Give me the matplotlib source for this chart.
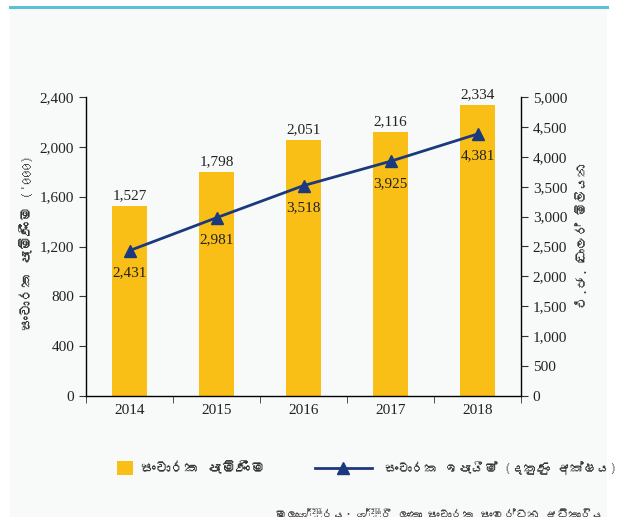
import matplotlib
matplotlib.use("Agg")
from matplotlib import pyplot as plt
from matplotlib import font_manager
from matplotlib.patches import Patch, Rectangle
from matplotlib.lines import Line2D
from matplotlib.ticker import FuncFormatter, MultipleLocator

years = ["2014", "2015", "2016", "2017", "2018"]
arrivals = [1527, 1798, 2051, 2116, 2334]        # '000, left axis
earnings = [2431, 2981, 3518, 3925, 4381]        # US$ mn, right axis

left_label = "සංචාරක පැමිණීම ('000)"
right_label = "එ.ජ. ඩොලර් මිලියන"
bar_name = "සංචාරක පැමිණීම"
line_name = "සංචාරක ඉපැයීම් (දකුණු අක්ෂය)"
source = "මූලාශ්‍රය: ශ්‍රී ලංකා සංචාරක සංවර්ධන අධිකාරිය"

BAR_COLOR = "#f9bf16"
LINE_COLOR = "#1b3a7e"
TEXT_COLOR = "#222222"


def find_sinhala_font():
    # look for any installed font that has Sinhala glyphs
    try:
        from fontTools.ttLib import TTFont
    except ImportError:
        return None
    for entry in font_manager.fontManager.ttflist:
        try:
            tt = TTFont(entry.fname, fontNumber=0, lazy=True)
            cmap = tt.getBestCmap() or {}
            if 0x0DC3 in cmap and 0x0D9A in cmap:
                return entry.name
        except Exception:
            continue
    return None


sinhala = find_sinhala_font()
si_family = ([sinhala] if sinhala else []) + ["Noto Sans", "DejaVu Sans"]
num_family = ["Liberation Serif", "DejaVu Serif"]

plt.rcParams["font.family"] = num_family
plt.rcParams["axes.linewidth"] = 1.0

W, H = 619, 517
fig = plt.figure(figsize=(W / 100, H / 100), dpi=100, facecolor="white")

# light panel and the cyan rule on top
fig.patches.append(Rectangle((10 / W, 0), 597 / W, 1 - 8 / H,
                             transform=fig.transFigure, facecolor="#f8f9f9",
                             edgecolor="none", zorder=-5))
fig.add_artist(Line2D([10 / W, 607 / W], [1 - 7 / H, 1 - 7 / H],
                      transform=fig.transFigure, color="#5cc1d8", lw=2.2))

ax = fig.add_axes([86 / W, 1 - 396 / H, 435 / W, 299 / H])
ax.set_facecolor("none")
ax2 = ax.twinx()

x = range(len(years))
bars = ax.bar(x, arrivals, width=0.41, color=BAR_COLOR, zorder=2)
ax.set_xlim(-0.5, len(years) - 0.5)
ax.set_ylim(0, 2400)
ax.yaxis.set_major_locator(MultipleLocator(400))
ax.yaxis.set_major_formatter(FuncFormatter(lambda v, p: f"{int(v):,}"))

ax.set_xticks(x)
ax.set_xticklabels(years)
ax.set_xticks([i - 0.5 for i in range(len(years) + 1)], minor=True)
ax.tick_params(axis="x", which="major", length=0, pad=6, labelsize=11,
               labelcolor=TEXT_COLOR)
ax.tick_params(axis="x", which="minor", length=5, direction="out",
               color="#333333")
ax.tick_params(axis="y", length=5, direction="out", labelsize=11,
               labelcolor=TEXT_COLOR, color="#333333")

for sp in ["top", "right"]:
    ax.spines[sp].set_visible(False)
for sp in ["top", "left", "bottom"]:
    ax2.spines[sp].set_visible(False)

for i, v in enumerate(arrivals):
    ax.annotate(f"{v:,}", (i, v), xytext=(0, 4), textcoords="offset pixels",
                ha="center", va="bottom", fontsize=11, color=TEXT_COLOR)

ax2.plot(x, earnings, color=LINE_COLOR, lw=2, marker="^", markersize=9,
         zorder=3)
ax2.set_ylim(0, 5000)
ax2.yaxis.set_major_locator(MultipleLocator(500))
ax2.yaxis.set_major_formatter(FuncFormatter(lambda v, p: f"{int(v):,}"))
ax2.tick_params(axis="y", length=5, direction="out", labelsize=11,
                labelcolor=TEXT_COLOR, color="#333333")

for i, v in enumerate(earnings):
    ax2.annotate(f"{v:,}", (i, v), xytext=(0, -22),
                 textcoords="offset pixels", ha="center", va="center",
                 fontsize=11, color=TEXT_COLOR)

fig.text(27 / W, 1 - 242 / H, left_label, rotation=90, ha="center",
         va="center", fontsize=10.5, color="#333333", family=si_family)
fig.text(583 / W, 1 - 235 / H, right_label, rotation=90, ha="center",
         va="center", fontsize=9.5, color="#333333", family=si_family)

# legend, two pieces so the square and the long line get their own sizes
leg1 = fig.legend([Patch(facecolor=BAR_COLOR)], [bar_name],
                  loc="center left", bbox_to_anchor=(117 / W, 1 - 468 / H),
                  frameon=False, handlelength=1.1, handleheight=1.1,
                  handletextpad=0.55, borderpad=0, borderaxespad=0,
                  prop={"family": si_family, "size": 10.5})
leg2 = fig.legend([Line2D([], [], color=LINE_COLOR, lw=2, marker="^",
                          markersize=9)], [line_name],
                  loc="center left", bbox_to_anchor=(315 / W, 1 - 468 / H),
                  frameon=False, handlelength=4.3, handletextpad=1.0,
                  borderpad=0, borderaxespad=0,
                  prop={"family": si_family, "size": 9.5})
for leg in (leg1, leg2):
    for t in leg.get_texts():
        t.set_color("#333333")

# source note sits on the lower edge, cut off as in the original
fig.text(604 / W, 1 - 508 / H, source, ha="right", va="top", fontsize=8.5,
         color="#444444", family=si_family)

fig.savefig("out.png", dpi=100, facecolor="white")
